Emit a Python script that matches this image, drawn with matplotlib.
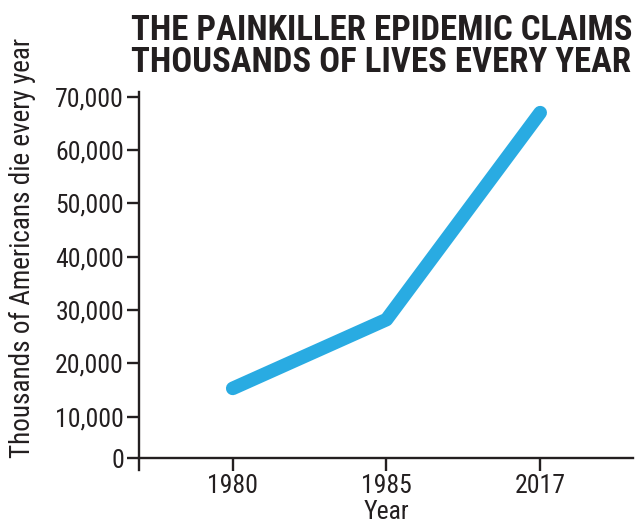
import matplotlib
matplotlib.use("Agg")
import matplotlib.pyplot as plt

years = ["1980", "1985", "2017"]
deaths = [15300, 28200, 67000]
# the x axis sits a little above true zero; its tick is labelled "0"
baseline = 2200
y_ticks = [baseline, 10000, 20000, 30000, 40000, 50000, 60000, 70000]
y_tick_labels = ["0", "10,000", "20,000", "30,000", "40,000", "50,000", "60,000", "70,000"]

plt.rcParams['font.family'] = ['Roboto Condensed', 'DejaVu Sans']
ink = "#231f20"

fig = plt.figure(figsize=(6.38, 5.24), dpi=100)
ax = fig.add_axes([0.2183, 0.1031, 0.7739, 0.7220])

x = list(range(len(years)))
ax.plot(x, deaths, color="#29abe2", lw=9.8, solid_capstyle="round",
        solid_joinstyle="round")

ax.set_xlim(-0.608, 2.604)
ax.set_ylim(0, 70940)
ax.set_xticks(x)
ax.set_xticklabels(years)
ax.set_yticks(y_ticks)
ax.set_yticklabels(y_tick_labels)

for side in ["top", "right"]:
    ax.spines[side].set_visible(False)
ax.spines["bottom"].set_position(("data", baseline))
for side in ["left", "bottom"]:
    ax.spines[side].set_linewidth(1.7)
    ax.spines[side].set_color(ink)

ax.tick_params(axis="both", direction="out", length=9, width=1.7,
               color=ink, labelcolor=ink, labelsize=18.5, pad=2)
ax.tick_params(axis="x", pad=2)

ax.set_xlabel("Year", fontsize=18.5, color=ink, labelpad=1.5)
ax.set_ylabel("Thousands of Americans die every year", fontsize=19.5, color=ink)
ax.yaxis.set_label_coords(-0.21, 0.588)

fig.text(0.598, 0.973, "THE PAINKILLER EPIDEMIC CLAIMS\nTHOUSANDS OF LIVES EVERY YEAR",
         ha="center", va="top", fontsize=25, fontweight="black", color=ink,
         linespacing=0.95)

fig.savefig("out.png", dpi=100)
